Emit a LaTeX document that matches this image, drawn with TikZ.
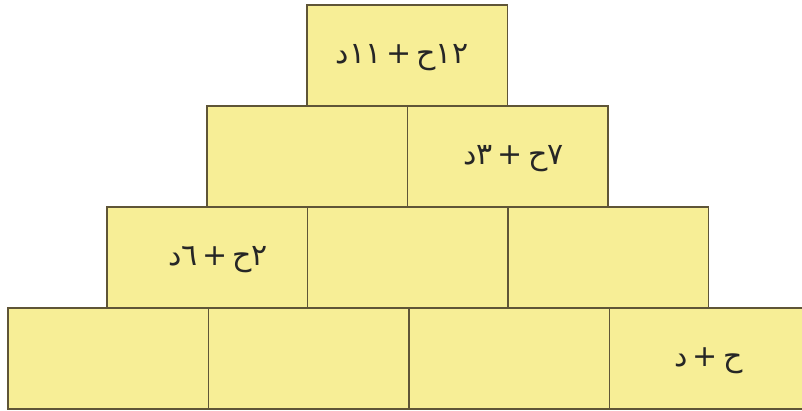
\documentclass[tikz,border=0pt]{standalone}
\usepackage{fontspec}
\newfontfamily\arabicfont[Script=Arabic]{DejaVu Sans}
\TeXXeTstate=1
\usepackage{tikz}
\usetikzlibrary{positioning}
\definecolor{brickfill}{RGB}{247,238,150}
\definecolor{brickline}{RGB}{95,85,55}
\tikzset{
  brick/.style={draw=brickline, fill=brickfill, line width=1.6pt,
    minimum width=200.5pt, minimum height=101pt, inner sep=0pt, anchor=north west},
  expr/.style={font=\arabicfont\fontsize{30}{34}\selectfont, text=black!85}
}
\begin{document}
\begin{tikzpicture}[x=1pt, y=-1pt]
    \useasboundingbox (0,0) rectangle (802,411);
    % الصف الأسفل
    \node[brick] (r4a) at (7,307) {};
    \node[brick] (r4b) at (207.5,307) {};
    \node[brick] (r4c) at (408,307) {};
    \node[brick] (r4d) at (608.5,307) {};
    % الصف الثالث
    \node[brick] (r3a) at (106,206) {};
    \node[brick] (r3b) at (306.5,206) {};
    \node[brick] (r3c) at (507,206) {};
    % الصف الثاني
    \node[brick] (r2a) at (206,105) {};
    \node[brick] (r2b) at (406.5,105) {};
    % القمة
    \node[brick] (r1a) at (306,4) {};
    % النصوص
    \node[expr] (t1) at ([xshift=-5pt,yshift=-2pt]r1a.center) {\beginR ١٢ح\,+\,١١د\endR};
    \node[expr] (t2) at ([xshift=6pt,yshift=-2pt]r2b.center) {\beginR ٧ح\,+\,٣د\endR};
    \node[expr] (t3) at ([xshift=11pt,yshift=-2pt]r3a.center) {\beginR ٢ح\,+\,٦د\endR};
    \node[expr] (t4) at ([xshift=-1pt,yshift=-2pt]r4d.center) {\beginR ح\,+\,د\endR};
\end{tikzpicture}
\end{document}
